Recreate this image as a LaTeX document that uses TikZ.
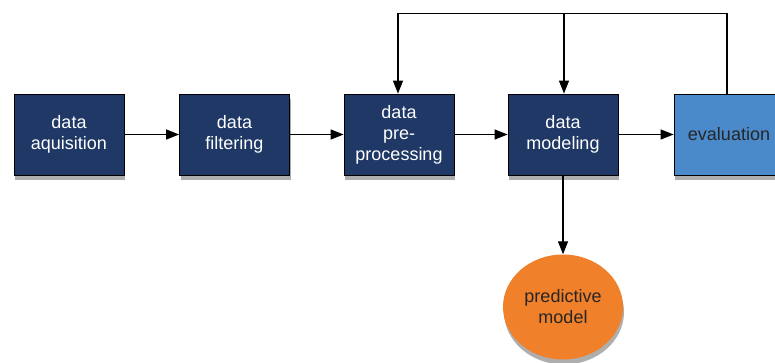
\documentclass[tikz,border=0pt]{standalone}
\usepackage{fontspec}
\setmainfont{Liberation Sans}
\usetikzlibrary{arrows.meta,shadows,shapes.geometric}
\definecolor{navy}{RGB}{31,56,102}
\definecolor{evalblue}{RGB}{74,137,202}
\definecolor{orng}{RGB}{240,128,42}
\begin{document}
\begin{tikzpicture}[x=1pt,y=-1pt,
  shadowed/.style={drop shadow={shadow xshift=1pt,shadow yshift=-5pt,opacity=0.45,fill=black!70}},
  stepbox/.style={draw=black,line width=0.8pt,fill=navy,text=white,minimum width=110pt,minimum height=81pt,inner sep=0pt,align=center,font=\fontsize{18}{21}\selectfont,shadowed},
  evalbox/.style={stepbox,fill=evalblue,text=black!85},
  predict/.style={ellipse,fill=orng,text=black!85,minimum width=120pt,minimum height=105pt,inner sep=0pt,align=center,font=\fontsize{18}{21}\selectfont,shadowed},
  conn/.style={line width=1.3pt,-{Triangle[length=13pt,width=10pt]}},
  plain/.style={line width=1.3pt}]
\useasboundingbox (0,0) rectangle (775,363);
\node[stepbox] (acq) at (69,134.5) {data\\aquisition};
\node[stepbox] (filt) at (234.5,134.5) {data\\filtering};
\node[stepbox] (pre) at (399,134.5) {data\\pre-\\processing};
\node[stepbox] (mod) at (563,134.5) {data\\modeling};
\node[evalbox] (eval) at (729,134.5) {evaluation};
\node[predict] (pm) at (563,307) {predictive\\model};
\coordinate (tr) at (727,13.5);
\coordinate (tm) at (564,13.5);
\coordinate (tl) at (398,13.5);
\draw[conn] (acq) -- (filt);
\draw[conn] (filt) -- (pre);
\draw[conn] (pre) -- (mod);
\draw[conn] (mod) -- (eval);
\draw[conn] (mod) -- (pm);
\draw[plain] (eval.north -| tr) -- (tr) -- (tl);
\draw[conn] (tl) -- (tl |- pre.north);
\draw[conn] (tm) -- (tm |- mod.north);
\end{tikzpicture}
\end{document}
